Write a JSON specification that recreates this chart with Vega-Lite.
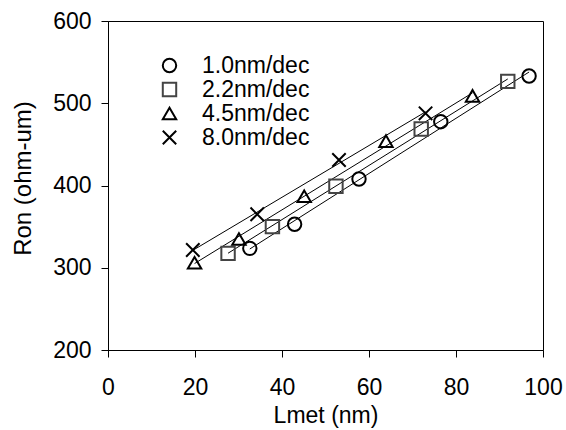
{
  "$schema": "https://vega.github.io/schema/vega-lite/v6.json",
  "autosize": {"type": "none"},
  "width": 435,
  "height": 329,
  "padding": {"left": 108, "top": 21, "right": 23, "bottom": 80},
  "background": "white",
  "config": {
    "font": "Liberation Sans",
    "view": {"stroke": "black", "strokeWidth": 1},
    "axis": {
      "grid": false,
      "labelFlush": false,
      "labelOverlap": false,
      "domainColor": "black",
      "tickColor": "black",
      "labelColor": "black",
      "titleColor": "black",
      "labelFontSize": 23,
      "titleFontSize": 23,
      "titleFontWeight": "normal",
      "tickSize": 7,
      "labelFont": "Liberation Sans",
      "titleFont": "Liberation Sans"
    }
  },
  "data": {
    "values": [
      {"series": "1.0nm/dec", "Lmet": 32.6, "Ron": 323.6},
      {"series": "1.0nm/dec", "Lmet": 42.9, "Ron": 352.8},
      {"series": "1.0nm/dec", "Lmet": 57.7, "Ron": 407.9},
      {"series": "1.0nm/dec", "Lmet": 76.5, "Ron": 477.6},
      {"series": "1.0nm/dec", "Lmet": 96.8, "Ron": 533.1},
      {"series": "2.2nm/dec", "Lmet": 27.6, "Ron": 317.5},
      {"series": "2.2nm/dec", "Lmet": 37.8, "Ron": 350.0},
      {"series": "2.2nm/dec", "Lmet": 52.4, "Ron": 399.0},
      {"series": "2.2nm/dec", "Lmet": 72.0, "Ron": 468.7},
      {"series": "2.2nm/dec", "Lmet": 91.9, "Ron": 526.6},
      {"series": "4.5nm/dec", "Lmet": 19.9, "Ron": 306.0},
      {"series": "4.5nm/dec", "Lmet": 30.1, "Ron": 335.0},
      {"series": "4.5nm/dec", "Lmet": 45.1, "Ron": 387.0},
      {"series": "4.5nm/dec", "Lmet": 63.9, "Ron": 454.0},
      {"series": "4.5nm/dec", "Lmet": 83.8, "Ron": 509.0},
      {"series": "8.0nm/dec", "Lmet": 19.5, "Ron": 321.6},
      {"series": "8.0nm/dec", "Lmet": 34.3, "Ron": 365.0},
      {"series": "8.0nm/dec", "Lmet": 53.1, "Ron": 431.0},
      {"series": "8.0nm/dec", "Lmet": 73.0, "Ron": 487.7}
    ]
  },
  "layer": [
    {
      "transform": [{"regression": "Ron", "on": "Lmet", "groupby": ["series"]}],
      "mark": {"type": "line", "color": "black", "strokeWidth": 1},
      "encoding": {
        "x": {"field": "Lmet", "type": "quantitative"},
        "y": {"field": "Ron", "type": "quantitative"},
        "detail": {"field": "series"}
      }
    },
    {
      "mark": {"type": "point", "filled": false, "strokeWidth": 2, "size": 180, "opacity": 1},
      "encoding": {
        "x": {
          "field": "Lmet", "type": "quantitative",
          "scale": {"domain": [0, 100], "nice": false},
          "axis": {"values": [0, 20, 40, 60, 80, 100], "labelPadding": 19, "title": "Lmet (nm)", "titlePadding": 5}
        },
        "y": {
          "field": "Ron", "type": "quantitative",
          "scale": {"domain": [200, 600], "nice": false, "zero": false},
          "axis": {"values": [200, 300, 400, 500, 600], "labelPadding": 10, "title": "Ron (ohm-um)", "titleFontSize": 24, "titlePadding": 17, "titleY": 157}
        },
        "shape": {
          "field": "series", "type": "nominal",
          "scale": {"domain": ["1.0nm/dec", "2.2nm/dec", "4.5nm/dec", "8.0nm/dec"],
                    "range": ["circle", "square", "triangle-up", "M-1,-1L1,1M-1,1L1,-1"]},
          "legend": {
            "title": null,
            "orient": "none",
            "legendX": 50,
            "legendY": 33,
            "padding": 0,
            "labelFontSize": 23,
            "labelColor": "black",
            "labelFont": "Liberation Sans",
            "labelOffset": 21,
            "rowPadding": -4.5,
            "symbolSize": 180,
            "symbolStrokeWidth": 2,
            "symbolFillColor": "transparent"
          }
        },
        "color": {
          "field": "series", "type": "nominal",
          "scale": {"domain": ["1.0nm/dec", "2.2nm/dec", "4.5nm/dec", "8.0nm/dec"],
                    "range": ["black", "#444444", "black", "black"]},
          "legend": {
            "title": null,
            "orient": "none",
            "legendX": 50,
            "legendY": 33,
            "padding": 0,
            "labelFontSize": 23,
            "labelColor": "black",
            "labelFont": "Liberation Sans",
            "labelOffset": 21,
            "rowPadding": -4.5,
            "symbolSize": 180,
            "symbolStrokeWidth": 2,
            "symbolFillColor": "transparent"
          }
        }
      }
    }
  ]
}
